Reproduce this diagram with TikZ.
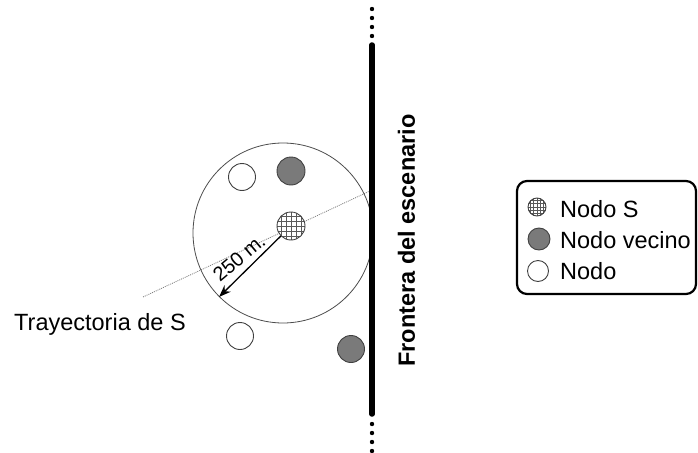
\documentclass[tikz,border=0pt]{standalone}
\usepackage{fontspec}
\setmainfont{Liberation Sans}
\usetikzlibrary{arrows.meta}
\newcommand{\textsz}{\fontsize{23.5}{28}\selectfont}
\begin{document}
\begin{tikzpicture}[x=1pt,y=1pt,
  nodo/.style={circle,draw=black!75,line width=0.9pt,inner sep=0pt,minimum size=#1},
  vecino/.style={nodo=#1,fill=black!52},
  libre/.style={nodo=#1,fill=white},
  rejilla/.style={nodo=#1,fill=white,path picture={
      \foreach \k in {-3,...,3}{
        \draw[black!65,line width=0.5pt,shift={(path picture bounding box.center)}]
          (\k*#1/5.5,-#1) -- (\k*#1/5.5,#1)
          (-#1,\k*#1/5.5) -- (#1,\k*#1/5.5);
      }}},
  etiqueta/.style={inner sep=0pt,font=\textsz},
  punto/.style={circle,fill=black,inner sep=0pt,minimum size=4.4pt}]
  \useasboundingbox (0,0) rectangle (698,-452);

  % trajectory of S (dotted)
  \coordinate (ini) at (143,-297);
  \coordinate (fin) at (372,-190);
  \draw[gray,line width=0.8pt,dash pattern=on 1pt off 1pt] (ini) -- (fin);

  % coverage area of S
  \node[circle,draw=black!70,line width=0.8pt,minimum size=180pt,inner sep=0pt] (zona) at (283,-233) {};

  % nodes
  \node[libre=27pt]  (n1) at (242,-177) {};
  \node[vecino=28pt] (v1) at (291,-171) {};
  \node[rejilla=28pt] (s) at (291,-226) {};
  \node[libre=27pt]  (n2) at (240,-336) {};
  \node[vecino=27pt] (v2) at (351,-349) {};

  % radius arrow and label
  \draw[-{Stealth[length=12pt,width=9pt]},line width=1.3pt] (s) -- (zona.225);
  \node[etiqueta,font=\fontsize{20}{23}\selectfont,rotate=40] (radio) at (239,-258) {250 m.};

  % scenario boundary
  \coordinate (ftop) at (372,-45);
  \coordinate (fbot) at (372,-414);
  \draw[line width=5.5pt,line cap=round] (ftop) -- (fbot);
  \foreach \y [count=\i] in {9,18,27,36} {\node[punto] (pa\i) at (372,-\y) {};}
  \foreach \y [count=\i] in {424,433,442,451} {\node[punto] (pb\i) at (372,-\y) {};}
  \node[etiqueta,font=\bfseries\textsz,rotate=90] (frontera) at (406.5,-240.5) {Frontera del escenario};

  \node[etiqueta,anchor=base west] (tray) at (14,-330) {Trayectoria de S};

  % legend
  \node[draw,rounded corners=10pt,line width=2.2pt,minimum width=179pt,minimum height=113pt,inner sep=0pt] (leyenda) at (606.5,-237.5) {};
  \node[rejilla=18pt] (ls) at (537,-207) {};
  \node[vecino=22pt] (lv) at (539,-239) {};
  \node[libre=21pt]  (ln) at (538,-271) {};
  \node[etiqueta,anchor=base west] (ts) at (560,-217) {Nodo S};
  \node[etiqueta,anchor=base west] (tv) at (560,-248) {Nodo vecino};
  \node[etiqueta,anchor=base west] (tn) at (560,-279) {Nodo};
\end{tikzpicture}
\end{document}
